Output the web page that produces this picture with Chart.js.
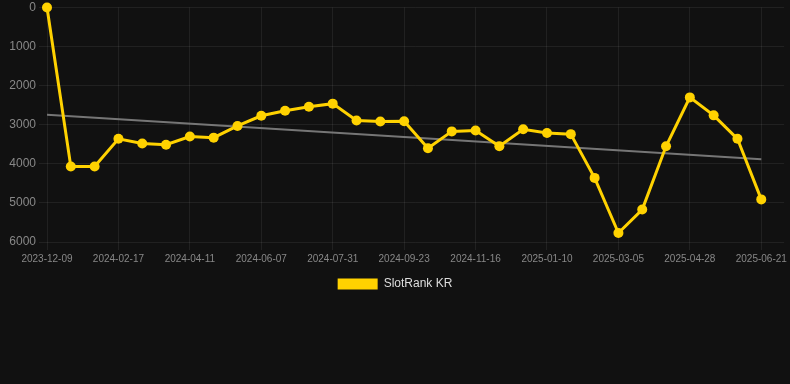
<!DOCTYPE html>
<html>
<head>
<meta charset="utf-8">
<script src="https://cdn.jsdelivr.net/npm/chart.js@4"></script>
<style>
  html, body { margin: 0; padding: 0; background: #111111; }
  #wrap { position: relative; width: 790px; height: 300px; }
</style>
</head>
<body>
<div id="wrap"><canvas id="c"></canvas></div>
<script>
const dates = [
  "2023-12-09","2024-01-12","2024-01-30","2024-02-17","2024-03-06","2024-03-24",
  "2024-04-11","2024-04-29","2024-05-18","2024-06-07","2024-06-25","2024-07-13",
  "2024-07-31","2024-08-18","2024-09-05","2024-09-23","2024-10-11","2024-10-29",
  "2024-11-16","2024-12-04","2024-12-22","2025-01-10","2025-01-28","2025-02-15",
  "2025-03-05","2025-03-23","2025-04-10","2025-04-28","2025-05-16","2025-06-03",
  "2025-06-21"
];
const ranks = [
  0, 4070, 4070, 3360, 3480, 3510,
  3300, 3330, 3030, 2770, 2640, 2540,
  2460, 2890, 2915, 2910, 3600, 3170,
  3145, 3550, 3115, 3210, 3240, 4360,
  5770, 5170, 3550, 2300, 2760, 3360,
  4910
];
const trendStart = 2745;
const trendEnd = 3880;
const yTicks = [0, 1000, 2000, 3000, 4000, 5000, 6000];

const seriesData = ranks.map((v, i) => ({ x: i, y: v }));
const trendData = [{ x: 0, y: trendStart }, { x: dates.length - 1, y: trendEnd }];

Chart.defaults.font.family = "'Liberation Sans', Arial, sans-serif";

new Chart(document.getElementById('c'), {
  type: 'line',
  data: {
    datasets: [
      {
        label: 'SlotRank KR',
        data: seriesData,
        borderColor: 'rgb(255, 210, 0)',
        backgroundColor: 'rgb(255, 210, 0)',
        borderWidth: 3,
        pointRadius: 5,
        pointHoverRadius: 5,
        pointBackgroundColor: 'rgb(255, 210, 0)',
        pointBorderWidth: 0,
        tension: 0,
        clip: false,
        order: 1
      },
      {
        label: 'trend',
        data: trendData,
        borderColor: 'rgba(130, 130, 130, 0.9)',
        borderWidth: 2,
        pointRadius: 0,
        tension: 0,
        order: 2
      }
    ]
  },
  options: {
    responsive: true,
    maintainAspectRatio: false,
    animation: false,
    plugins: {
      legend: {
        position: 'bottom',
        labels: {
          color: '#dddddd',
          font: { size: 12 },
          boxWidth: 40,
          boxHeight: 11,
          padding: 10,
          generateLabels: (chart) =>
            Chart.defaults.plugins.legend.labels.generateLabels(chart)
              .filter(item => item.text === 'SlotRank KR')
              .map(item => Object.assign(item, { lineWidth: 0 }))
        }
      },
      tooltip: { enabled: false }
    },
    scales: {
      x: {
        type: 'linear',
        min: 0,
        max: 30.96,
        afterBuildTicks: (axis) => {
          axis.ticks = dates.map((d, i) => ({ value: i })).filter(t => t.value % 3 === 0);
        },
        ticks: {
          autoSkip: false,
          maxRotation: 0,
          color: '#888888',
          font: { size: 10 },
          callback: (v) => dates[v] || ''
        },
        grid: { color: 'rgba(255,255,255,0.07)' },
        border: { display: false }
      },
      y: {
        reverse: true,
        min: 0,
        max: 6000,
        afterBuildTicks: (axis) => {
          axis.ticks = yTicks.map(v => ({ value: v }));
        },
        afterFit: (axis) => { axis.width = 47; },
        ticks: {
          color: '#888888',
          font: { size: 12, lineHeight: 0.75 },
          callback: (v) => String(v)
        },
        grid: { color: 'rgba(255,255,255,0.07)' },
        border: { display: false }
      }
    }
  }
});
</script>
</body>
</html>
